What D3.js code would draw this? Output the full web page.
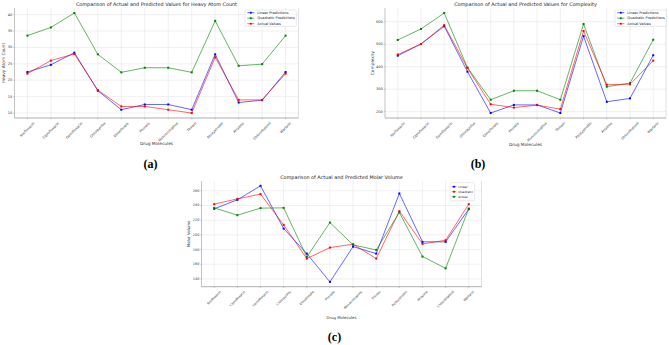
<!DOCTYPE html>
<html><head><meta charset="utf-8">
<script src="https://cdn.jsdelivr.net/npm/d3@7"></script>
<style>html,body{margin:0;padding:0;background:#fff;} svg{display:block;}</style>
</head><body>
<svg id="chart" width="669" height="345"></svg>
<script>
// ---------- data ----------
const categories = ["Norfloxacin","Ciprofloxacin","Gemifloxacin","Chlorpyrifos","Dimethoate","Phorate","Monocrotophos","Thiram","Azoxystrobin","Atrazine","Chlorothalonil","Warfarin"];

const heavyLinear    = [22.5, 24.7, 28.4, 16.8, 11.0, 12.6, 12.6, 11.0, 27.9, 13.2, 13.9, 22.5];
const heavyQuadratic = [33.6, 36.1, 40.5, 27.9, 22.4, 23.8, 23.8, 22.4, 38.1, 24.4, 24.9, 33.6];
const heavyActual    = [22, 26, 28, 17, 12, 12, 11, 10, 27, 14, 14, 22];
const heavyTicks     = [10, 15, 20, 25, 30, 35, 40];

const complexityLinear    = [449, 501, 580, 378, 194, 230, 230, 194, 536, 244, 259, 451];
const complexityQuadratic = [519, 568, 639, 396, 253, 293, 293, 253, 590, 311, 327, 520];
const complexityActual    = [454, 501, 585, 394, 233, 218, 229, 211, 559, 320, 322, 427];
const complexityTicks     = [200, 300, 400, 500, 600];

const molarLinear    = [235.5, 247.7, 266.8, 208.6, 174.5, 136.0, 184.0, 174.5, 256.4, 190.5, 190.5, 235.0];
const molarQuadratic = [241.8, 249.0, 255.5, 213.6, 167.7, 182.7, 187.3, 167.7, 232.3, 187.7, 192.7, 241.8];
const molarActual    = [236.8, 226.8, 236.4, 236.8, 170.0, 216.8, 186.4, 179.5, 230.5, 170.5, 154.5, 235.9];
const molarTicks     = [140, 160, 180, 200, 220, 240, 260];

const titles = [
  "Comparison of Actual and Predicted Values for Heavy Atom Count",
  "Comparison of Actual and Predicted Values for Complexity",
  "Comparison of Actual and Predicted Molar Volume"
];
const yLabels = ["Heavy Atom Count", "Complexity", "Molar Volume"];
const xLabel = "Drug Molecules";
const captions = ["(a)", "(b)", "(c)"];
const legendAB = ["Linear Predictions", "Quadratic Predictions", "Actual Values"];
const legendC = ["Linear", "Quadratic", "Actual"];

// ---------- drawing ----------
const svg = d3.select("#chart");
const FONT = "'DejaVu Sans', sans-serif";

function drawPanel(p) {
  const g = svg.append("g");
  const all = p.series.flatMap(s => s.values);
  const [lo, hi] = d3.extent(all);
  const m = (hi - lo) * 0.05;
  const y = d3.scaleLinear().domain([lo - m, hi + m]).range([p.bottom, p.top]);
  const x = d3.scalePoint().domain(categories).range([p.left, p.right]).padding(0.55);

  // grid
  g.append("g").selectAll("line").data(p.ticks).join("line")
    .attr("x1", p.left).attr("x2", p.right)
    .attr("y1", d => y(d)).attr("y2", d => y(d))
    .attr("stroke", "#e6e6e6").attr("stroke-width", 0.6);
  g.append("g").selectAll("line").data(categories).join("line")
    .attr("x1", d => x(d)).attr("x2", d => x(d))
    .attr("y1", p.top).attr("y2", p.bottom)
    .attr("stroke", "#e6e6e6").attr("stroke-width", 0.6);

  // spines
  g.append("line").attr("x1", p.left).attr("x2", p.left).attr("y1", p.top).attr("y2", p.bottom)
    .attr("stroke", "#aaa").attr("stroke-width", 0.7);
  g.append("line").attr("x1", p.right).attr("x2", p.right).attr("y1", p.top).attr("y2", p.bottom)
    .attr("stroke", "#ccc").attr("stroke-width", 0.6);
  g.append("line").attr("x1", p.left).attr("x2", p.right).attr("y1", p.bottom).attr("y2", p.bottom)
    .attr("stroke", "#999").attr("stroke-width", 0.8);

  // y ticks
  g.append("g").selectAll("line").data(p.ticks).join("line")
    .attr("x1", p.left - 1.3).attr("x2", p.left)
    .attr("y1", d => y(d)).attr("y2", d => y(d))
    .attr("stroke", "#999").attr("stroke-width", 0.5);
  g.append("g").selectAll("text").data(p.ticks).join("text")
    .attr("x", p.left - 2.2).attr("y", d => y(d))
    .attr("text-anchor", "end").attr("dominant-baseline", "central")
    .attr("font-family", FONT).attr("font-size", p.tickFont).attr("fill", "#333")
    .text(d => d);

  // x ticks
  g.append("g").selectAll("line").data(categories).join("line")
    .attr("x1", d => x(d)).attr("x2", d => x(d))
    .attr("y1", p.bottom).attr("y2", p.bottom + 1.3)
    .attr("stroke", "#999").attr("stroke-width", 0.5);
  const xt = g.append("g").selectAll("text").data(categories).join("text")
    .attr("text-anchor", "middle").attr("dominant-baseline", "central")
    .attr("font-family", FONT).attr("font-size", p.xtickFont).attr("fill", "#333")
    .text(d => d);
  xt.each(function(d) {
    const L = this.getComputedTextLength();
    const half = (L + p.xtickFont) / (2 * Math.SQRT2);
    const cx = x(d), cy = p.bottom + p.xtickGap + half;
    d3.select(this).attr("transform", `translate(${cx},${cy}) rotate(-45)`);
  });

  // axis labels & title
  g.append("text").attr("x", (p.left + p.right) / 2).attr("y", p.xLabelY)
    .attr("text-anchor", "middle").attr("font-family", FONT).attr("font-size", p.labelFont).attr("fill", "#333")
    .text(xLabel);
  g.append("text").attr("transform", `translate(${p.yLabelX},${(p.top + p.bottom) / 2}) rotate(-90)`)
    .attr("text-anchor", "middle").attr("font-family", FONT).attr("font-size", p.labelFont).attr("fill", "#333")
    .text(p.yLabel);
  g.append("text").attr("x", (p.left + p.right) / 2).attr("y", p.titleY)
    .attr("text-anchor", "middle").attr("font-family", FONT).attr("font-size", 4.9).attr("fill", "#222")
    .text(p.title);

  // series
  const line = d3.line().x((d, i) => x(categories[i])).y(d => y(d));
  p.series.forEach(s => {
    g.append("path").datum(s.values).attr("d", line)
      .attr("fill", "none").attr("stroke", s.color).attr("stroke-width", 0.8).attr("stroke-opacity", 0.75);
    g.append("g").selectAll("rect").data(s.values).join("rect")
      .attr("x", (d, i) => x(categories[i]) - 1).attr("y", d => y(d) - 1)
      .attr("width", 2).attr("height", 2).attr("fill", s.color);
  });

  // legend
  const lg = g.append("g");
  const box = lg.append("rect").attr("x", p.legend.x).attr("y", p.legend.y)
    .attr("rx", 0.8).attr("fill", "#fff").attr("fill-opacity", 0.85)
    .attr("stroke", "#ccc").attr("stroke-width", 0.4);
  let maxW = 0;
  p.series.forEach((s, i) => {
    const cy = p.legend.y + p.legend.first + i * p.legend.step;
    lg.append("line").attr("x1", p.legend.x + p.legend.l0).attr("x2", p.legend.x + p.legend.l1)
      .attr("y1", cy).attr("y2", cy).attr("stroke", s.color).attr("stroke-width", 0.8).attr("stroke-opacity", 0.75);
    lg.append("rect").attr("x", p.legend.x + (p.legend.l0 + p.legend.l1) / 2 - 0.9).attr("y", cy - 0.9)
      .attr("width", 1.8).attr("height", 1.8).attr("fill", s.color);
    const t = lg.append("text").attr("x", p.legend.x + p.legend.tx).attr("y", cy)
      .attr("dominant-baseline", "central").attr("font-family", FONT).attr("font-size", p.legend.font).attr("fill", "#222")
      .text(s.name);
    maxW = Math.max(maxW, t.node().getComputedTextLength());
  });
  box.attr("width", p.legend.tx + maxW + 1.5)
     .attr("height", p.legend.first * 2 + (p.series.length - 1) * p.legend.step);

  // caption
  svg.append("text").attr("x", p.capX).attr("y", p.capY).attr("text-anchor", "middle")
    .attr("font-family", "'Liberation Serif', 'DejaVu Serif', serif").attr("font-weight", "bold")
    .attr("font-size", 12).attr("fill", "#000").text(p.caption);
}

drawPanel({
  left: 14.5, right: 298.5, top: 8, bottom: 118,
  ticks: heavyTicks, tickFont: 3.5, xtickFont: 3.4, xtickGap: 3.5, labelFont: 4.3,
  xLabelY: 145.3, yLabelX: 5.2, titleY: 6.2, title: titles[0], yLabel: yLabels[0],
  series: [
    {name: legendAB[0], values: heavyLinear, color: "#0000ff"},
    {name: legendAB[1], values: heavyQuadratic, color: "#008000"},
    {name: legendAB[2], values: heavyActual, color: "#ff0000"}
  ],
  legend: {x: 245, y: 10, first: 2.7, step: 5.5, l0: 2.3, l1: 9.3, tx: 12.3, font: 3.5},
  caption: captions[0], capX: 150.5, capY: 168
});

drawPanel({
  left: 385, right: 666, top: 8, bottom: 118,
  ticks: complexityTicks, tickFont: 3.5, xtickFont: 3.4, xtickGap: 3.5, labelFont: 4.3,
  xLabelY: 145.5, yLabelX: 374.2, titleY: 6.2, title: titles[1], yLabel: yLabels[1],
  series: [
    {name: legendAB[0], values: complexityLinear, color: "#0000ff"},
    {name: legendAB[1], values: complexityQuadratic, color: "#008000"},
    {name: legendAB[2], values: complexityActual, color: "#ff0000"}
  ],
  legend: {x: 615, y: 10, first: 2.7, step: 5.5, l0: 2.3, l1: 9.3, tx: 12.3, font: 3.5},
  caption: captions[1], capX: 478, capY: 168
});

drawPanel({
  left: 201.5, right: 481.5, top: 181, bottom: 286.7,
  ticks: molarTicks, tickFont: 3.4, xtickFont: 3.2, xtickGap: 3.5, labelFont: 3.9,
  xLabelY: 318.5, yLabelX: 189.5, titleY: 179.2, title: titles[2], yLabel: yLabels[2],
  series: [
    {name: legendC[0], values: molarLinear, color: "#0000ff"},
    {name: legendC[1], values: molarQuadratic, color: "#ff0000"},
    {name: legendC[2], values: molarActual, color: "#008000"}
  ],
  legend: {x: 450, y: 182.7, first: 4, step: 5, l0: 1.7, l1: 6.3, tx: 8.3, font: 3.0},
  caption: captions[2], capX: 334.5, capY: 341.3
});
</script>
</body></html>
